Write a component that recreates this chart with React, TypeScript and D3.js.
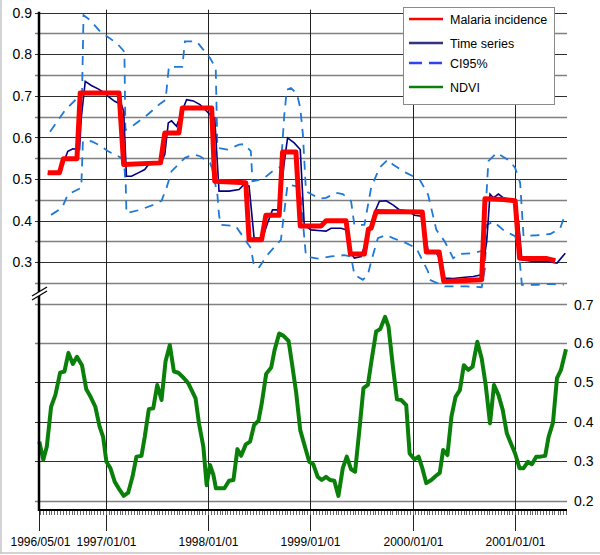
import { useEffect, useRef } from "react";
import * as d3 from "d3";

const FONT = "'Liberation Sans', Arial, sans-serif";

// times are decimal years
const incidenceT = [1996.434, 1996.548, 1996.587, 1996.719, 1996.751, 1997.13, 1997.175, 1997.535, 1997.577, 1997.715, 1997.748, 1998.035, 1998.065, 1998.369, 1998.401, 1998.523, 1998.565, 1998.695, 1998.728, 1998.859, 1998.901, 1999.104, 1999.153, 1999.349, 1999.391, 1999.528, 1999.568, 1999.594, 1999.643, 2000.094, 2000.133, 2000.258, 2000.303, 2000.673, 2000.705, 2000.885, 2000.999, 2001.042, 2001.31, 2001.392];
const incidenceV = [0.515, 0.515, 0.549, 0.549, 0.707, 0.707, 0.535, 0.539, 0.611, 0.611, 0.671, 0.671, 0.495, 0.491, 0.354, 0.354, 0.413, 0.413, 0.565, 0.565, 0.387, 0.387, 0.4, 0.4, 0.32, 0.32, 0.38, 0.382, 0.422, 0.421, 0.325, 0.325, 0.254, 0.258, 0.453, 0.451, 0.448, 0.31, 0.309, 0.304];

const seriesT = [1996.434, 1996.548, 1996.581, 1996.63, 1996.679, 1996.744, 1996.761, 1996.8, 1996.859, 1996.925, 1996.989, 1997.023, 1997.087, 1997.153, 1997.175, 1997.202, 1997.251, 1997.317, 1997.381, 1997.43, 1997.545, 1997.577, 1997.611, 1997.643, 1997.692, 1997.758, 1997.79, 1997.856, 1997.921, 1997.986, 1998.035, 1998.065, 1998.107, 1998.205, 1998.303, 1998.352, 1998.401, 1998.45, 1998.532, 1998.581, 1998.63, 1998.695, 1998.744, 1998.777, 1998.842, 1998.901, 1998.94, 1999.006, 1999.104, 1999.153, 1999.202, 1999.3, 1999.349, 1999.398, 1999.43, 1999.496, 1999.555, 1999.626, 1999.675, 1999.741, 1999.807, 1999.872, 1999.954, 2000.019, 2000.084, 2000.126, 2000.15, 2000.231, 2000.28, 2000.313, 2000.395, 2000.509, 2000.591, 2000.673, 2000.722, 2000.754, 2000.787, 2000.836, 2000.885, 2000.967, 2000.999, 2001.032, 2001.065, 2001.179, 2001.31, 2001.408, 2001.489];
const seriesV = [0.512, 0.519, 0.535, 0.567, 0.573, 0.571, 0.647, 0.735, 0.725, 0.717, 0.707, 0.699, 0.687, 0.679, 0.663, 0.507, 0.507, 0.515, 0.523, 0.539, 0.543, 0.559, 0.635, 0.64, 0.627, 0.671, 0.691, 0.688, 0.679, 0.663, 0.651, 0.647, 0.471, 0.471, 0.475, 0.487, 0.483, 0.358, 0.358, 0.394, 0.426, 0.426, 0.539, 0.599, 0.587, 0.571, 0.39, 0.378, 0.376, 0.375, 0.382, 0.382, 0.378, 0.322, 0.31, 0.314, 0.358, 0.419, 0.447, 0.448, 0.438, 0.426, 0.423, 0.413, 0.411, 0.366, 0.326, 0.322, 0.302, 0.262, 0.261, 0.264, 0.266, 0.27, 0.35, 0.464, 0.455, 0.464, 0.455, 0.448, 0.447, 0.399, 0.306, 0.302, 0.302, 0.298, 0.322];

const ciUpperT = [1996.457, 1996.604, 1996.719, 1996.768, 1996.783, 1996.849, 1996.947, 1997.111, 1997.182, 1997.192, 1997.274, 1997.405, 1997.535, 1997.584, 1997.617, 1997.748, 1997.774, 1997.888, 1998.019, 1998.075, 1998.091, 1998.189, 1998.303, 1998.352, 1998.418, 1998.434, 1998.535, 1998.63, 1998.712, 1998.744, 1998.77, 1998.81, 1998.869, 1998.901, 1998.927, 1998.957, 1999.087, 1999.153, 1999.251, 1999.317, 1999.398, 1999.43, 1999.528, 1999.594, 1999.675, 1999.758, 1999.807, 1999.937, 2000.068, 2000.15, 2000.231, 2000.313, 2000.395, 2000.46, 2000.591, 2000.689, 2000.738, 2000.82, 2000.95, 2000.999, 2001.048, 2001.081, 2001.212, 2001.342, 2001.44, 2001.474];
const ciUpperV = [0.614, 0.666, 0.694, 0.698, 0.894, 0.882, 0.854, 0.826, 0.806, 0.618, 0.63, 0.654, 0.682, 0.69, 0.77, 0.77, 0.831, 0.831, 0.791, 0.767, 0.575, 0.571, 0.583, 0.584, 0.567, 0.495, 0.5, 0.519, 0.53, 0.651, 0.715, 0.719, 0.705, 0.671, 0.607, 0.471, 0.453, 0.455, 0.467, 0.464, 0.447, 0.39, 0.39, 0.479, 0.527, 0.547, 0.535, 0.515, 0.499, 0.463, 0.378, 0.35, 0.31, 0.32, 0.322, 0.328, 0.543, 0.563, 0.543, 0.527, 0.491, 0.363, 0.365, 0.368, 0.382, 0.406];

const ciLowerT = [1996.467, 1996.574, 1996.63, 1996.761, 1996.777, 1996.859, 1996.925, 1997.023, 1997.121, 1997.175, 1997.195, 1997.202, 1997.332, 1997.464, 1997.545, 1997.594, 1997.643, 1997.774, 1997.856, 1997.921, 1998.019, 1998.038, 1998.091, 1998.107, 1998.124, 1998.271, 1998.418, 1998.45, 1998.499, 1998.581, 1998.712, 1998.777, 1998.859, 1998.901, 1998.957, 1999.072, 1999.202, 1999.332, 1999.398, 1999.43, 1999.513, 1999.562, 1999.594, 1999.66, 1999.741, 1999.807, 1999.937, 2000.035, 2000.101, 2000.15, 2000.166, 2000.313, 2000.525, 2000.673, 2000.705, 2000.722, 2000.787, 2000.901, 2000.999, 2001.032, 2001.065, 2001.212, 2001.342, 2001.474];
const ciLowerV = [0.414, 0.431, 0.463, 0.479, 0.591, 0.591, 0.583, 0.567, 0.555, 0.548, 0.487, 0.418, 0.426, 0.438, 0.448, 0.479, 0.519, 0.551, 0.559, 0.555, 0.539, 0.527, 0.463, 0.414, 0.39, 0.387, 0.334, 0.29, 0.288, 0.318, 0.354, 0.487, 0.483, 0.47, 0.314, 0.309, 0.314, 0.317, 0.314, 0.27, 0.258, 0.27, 0.302, 0.358, 0.366, 0.358, 0.346, 0.334, 0.302, 0.278, 0.258, 0.242, 0.242, 0.24, 0.286, 0.39, 0.398, 0.374, 0.363, 0.334, 0.246, 0.246, 0.248, 0.246];

const ndviT = [1996.352, 1996.391, 1996.425, 1996.467, 1996.509, 1996.555, 1996.597, 1996.636, 1996.679, 1996.719, 1996.768, 1996.81, 1996.852, 1996.898, 1996.94, 1996.974,
  1997.006, 1997.045, 1997.087, 1997.136, 1997.175, 1997.219, 1997.261, 1997.3, 1997.349, 1997.381, 1997.421, 1997.464, 1997.503, 1997.545, 1997.584, 1997.626, 1997.666, 1997.709, 1997.758, 1997.807, 1997.839, 1997.878, 1997.911, 1997.954, 1997.986,
  1998.019, 1998.052, 1998.077, 1998.16, 1998.205, 1998.248, 1998.287, 1998.323, 1998.369, 1998.411, 1998.45, 1998.493, 1998.525, 1998.568, 1998.617, 1998.65, 1998.695, 1998.738, 1998.787, 1998.82, 1998.862, 1998.901, 1998.947, 1998.989,
  1999.028, 1999.072, 1999.111, 1999.153, 1999.192, 1999.234, 1999.274, 1999.317, 1999.356, 1999.398, 1999.437, 1999.479, 1999.519, 1999.562, 1999.601, 1999.643, 1999.682, 1999.731, 1999.764, 1999.807, 1999.846, 1999.888, 1999.937, 1999.97,
  2000.019, 2000.058, 2000.094, 2000.133, 2000.182, 2000.225, 2000.264, 2000.297, 2000.339, 2000.378, 2000.418, 2000.46, 2000.499, 2000.542, 2000.584, 2000.63, 2000.673, 2000.712, 2000.754, 2000.793, 2000.836, 2000.878, 2000.918, 2000.957, 2000.999,
  2001.042, 2001.081, 2001.124, 2001.163, 2001.205, 2001.244, 2001.293, 2001.326, 2001.369, 2001.408, 2001.447, 2001.496];
const ndviV = [0.35, 0.304, 0.337, 0.438, 0.468, 0.524, 0.527, 0.574, 0.546, 0.564, 0.543, 0.482, 0.463, 0.438, 0.388, 0.362,
  0.299, 0.283, 0.249, 0.228, 0.213, 0.221, 0.261, 0.312, 0.314, 0.362, 0.432, 0.434, 0.493, 0.455, 0.552, 0.594, 0.527, 0.524, 0.512, 0.497, 0.48, 0.459, 0.396, 0.337, 0.24,
  0.291, 0.266, 0.232, 0.232, 0.251, 0.253, 0.331, 0.314, 0.343, 0.35, 0.392, 0.403, 0.447, 0.521, 0.537, 0.581, 0.623, 0.617, 0.604, 0.548, 0.472, 0.379, 0.337, 0.299,
  0.293, 0.261, 0.253, 0.261, 0.253, 0.251, 0.213, 0.283, 0.312, 0.28, 0.274, 0.379, 0.485, 0.493, 0.56, 0.628, 0.634, 0.665, 0.64, 0.539, 0.457, 0.455, 0.442, 0.32,
  0.305, 0.312, 0.283, 0.245, 0.253, 0.263, 0.271, 0.329, 0.316, 0.413, 0.463, 0.48, 0.543, 0.531, 0.539, 0.602, 0.56, 0.493, 0.396, 0.493, 0.468, 0.43, 0.371, 0.346, 0.32,
  0.283, 0.283, 0.299, 0.293, 0.312, 0.312, 0.314, 0.362, 0.398, 0.51, 0.531, 0.583];

const leftTicks = [0.3, 0.4, 0.5, 0.6, 0.7, 0.8, 0.9];
const rightTicks = [0.2, 0.3, 0.4, 0.5, 0.6, 0.7];
const dateTicks = ["1996/05/01", "1997/01/01", "1998/01/01", "1999/01/01", "2000/01/01", "2001/01/01"];
const legendLabels = ["Malaria incidence", "Time series", "CI95%", "NDVI"];

function decYear(t: number) {
  const y = Math.floor(t);
  const a = new Date(y, 0, 1).getTime();
  const b = new Date(y + 1, 0, 1).getTime();
  return new Date(a + (t - y) * (b - a));
}

export default function App() {
  const ref = useRef<SVGSVGElement>(null);

  useEffect(() => {
    const svg = d3.select(ref.current);
    svg.selectAll("*").remove();

    const left = 39, right = 567, top = 12.7, axisY = 510;
    const x = d3.scaleTime().domain([decYear(1996.349), decYear(2001.506)]).range([left, right]);
    const yTop = d3.scaleLinear().domain([0.2, 0.9]).range([303.9, top]);
    const yBot = d3.scaleLinear().domain([0.2, 0.7]).range([501, 303]);
    const parse = d3.timeParse("%Y/%m/%d");

    // outer frame
    svg.append("line").attr("x1", 1).attr("x2", 1).attr("y1", 0).attr("y2", 553).attr("stroke", "#c4c4c4").attr("stroke-width", 1.5);
    svg.append("line").attr("x1", 0).attr("x2", 600).attr("y1", 553).attr("y2", 553).attr("stroke", "#c4c4c4").attr("stroke-width", 1.5);

    // horizontal grid
    const grid = svg.append("g");
    const topGrid = d3.range(0, 15).map(i => 0.2 + i * 0.05);
    topGrid.forEach((v, i) => {
      const yy = Math.round(yTop(v)) + 0.5;
      const major = i % 2 === 0 && v > 0.28;
      grid.append("line").attr("x1", left - 4).attr("x2", right).attr("y1", yy).attr("y2", yy)
        .attr("stroke", major ? "#2e2e2e" : "#808080").attr("stroke-width", major ? 1.1 : 1.6);
    });
    [0.2, 0.3, 0.4, 0.5, 0.6].forEach(v => {
      const yy = Math.round(yBot(v)) + 0.5;
      const major = v > 0.25 && v < 0.55;
      grid.append("line").attr("x1", left - 4).attr("x2", right).attr("y1", yy).attr("y2", yy)
        .attr("stroke", major ? "#2e2e2e" : "#808080").attr("stroke-width", major ? 1.1 : 1.6);
    });

    // vertical year lines + major ticks
    dateTicks.forEach((s, i) => {
      const xx = Math.max(left, Math.round(x(parse(s)!))) + 0.5;
      svg.append("line").attr("x1", xx).attr("x2", xx).attr("y1", i === 0 ? axisY : top - 3).attr("y2", 531)
        .attr("stroke", "#222").attr("stroke-width", 1);
      svg.append("text").attr("x", i === 0 ? xx + 1 : xx).attr("y", 546).attr("text-anchor", "middle")
        .attr("font-family", FONT).attr("font-size", 12).attr("fill", "#000").text(s);
    });

    // minor ticks every 10 days
    const minor = d3.timeDays(x.domain()[0], x.domain()[1]).filter(d => [1, 11, 21].includes(d.getDate()));
    svg.append("g").selectAll("line").data(minor).enter().append("line")
      .attr("x1", d => Math.round(x(d)) + 0.5).attr("x2", d => Math.round(x(d)) + 0.5)
      .attr("y1", axisY).attr("y2", axisY + 5).attr("stroke", "#666").attr("stroke-width", 1);

    // series
    const lineTop = (T: number[], V: number[]) =>
      d3.line<number>().x((_, i) => x(decYear(T[i]))).y(v => yTop(v))(V);

    svg.append("path").attr("d", lineTop(ciUpperT, ciUpperV)).attr("fill", "none")
      .attr("stroke", "#1f78d6").attr("stroke-width", 1.8).attr("stroke-dasharray", "9,7");
    svg.append("path").attr("d", lineTop(ciLowerT, ciLowerV)).attr("fill", "none")
      .attr("stroke", "#1f78d6").attr("stroke-width", 1.8).attr("stroke-dasharray", "9,7");
    svg.append("path").attr("d", lineTop(seriesT, seriesV)).attr("fill", "none")
      .attr("stroke", "#000080").attr("stroke-width", 1.6);
    svg.append("path").attr("d", lineTop(incidenceT, incidenceV)).attr("fill", "none")
      .attr("stroke", "#ff0000").attr("stroke-width", 5).attr("stroke-linejoin", "round");

    const ndviLine = d3.line<number>().x((_, i) => x(decYear(ndviT[i]))).y(v => yBot(v));
    svg.append("path").attr("d", ndviLine(ndviV)).attr("fill", "none")
      .attr("stroke", "#0a800a").attr("stroke-width", 4).attr("stroke-linejoin", "round");

    // axes lines
    svg.append("line").attr("x1", left).attr("x2", left).attr("y1", top - 1).attr("y2", axisY + 1)
      .attr("stroke", "#000").attr("stroke-width", 2.5);
    svg.append("line").attr("x1", left - 1).attr("x2", right).attr("y1", axisY).attr("y2", axisY)
      .attr("stroke", "#000").attr("stroke-width", 2);

    // axis break
    svg.append("polygon").attr("points", "32,296 47,287 47,291 32,300").attr("fill", "#fff");
    svg.append("line").attr("x1", 32).attr("y1", 296).attr("x2", 47).attr("y2", 287).attr("stroke", "#000").attr("stroke-width", 1.2);
    svg.append("line").attr("x1", 32).attr("y1", 300).attr("x2", 47).attr("y2", 291).attr("stroke", "#000").attr("stroke-width", 1.2);

    // tick labels
    leftTicks.forEach(v => {
      svg.append("text").attr("x", 32).attr("y", yTop(v)).attr("dy", "0.36em").attr("text-anchor", "end")
        .attr("font-family", FONT).attr("font-size", 14).attr("fill", "#000").text(v.toFixed(1));
    });
    rightTicks.forEach(v => {
      svg.append("text").attr("x", 574).attr("y", v === 0.7 ? 305 : yBot(v)).attr("dy", "0.36em")
        .attr("font-family", FONT).attr("font-size", 14).attr("fill", "#000").text(v.toFixed(1));
    });

    // legend
    const lg = svg.append("g");
    lg.append("rect").attr("x", 403.5).attr("y", 7.5).attr("width", 151).attr("height", 97)
      .attr("fill", "#fff").attr("stroke", "#8a8a8a");
    const legendY = [19, 43, 63, 87];
    const legendStyle = [
      { c: "#ff0000", w: 2.5, d: null },
      { c: "#33337f", w: 2.5, d: null },
      { c: "#3344ee", w: 2.5, d: "13,7" },
      { c: "#0a800a", w: 2.5, d: null },
    ];
    legendLabels.forEach((label, i) => {
      lg.append("line").attr("x1", 409).attr("x2", 443).attr("y1", legendY[i]).attr("y2", legendY[i])
        .attr("stroke", legendStyle[i].c).attr("stroke-width", legendStyle[i].w)
        .attr("stroke-dasharray", legendStyle[i].d);
      lg.append("text").attr("x", 450).attr("y", legendY[i]).attr("dy", "0.36em")
        .attr("font-family", FONT).attr("font-size", 12.5).attr("fill", "#000").text(label);
    });
  }, []);

  return (
    <svg ref={ref} width={600} height={555}
      style={{ position: "absolute", left: 0, top: 0, background: "#fff", display: "block" }} />
  );
}
